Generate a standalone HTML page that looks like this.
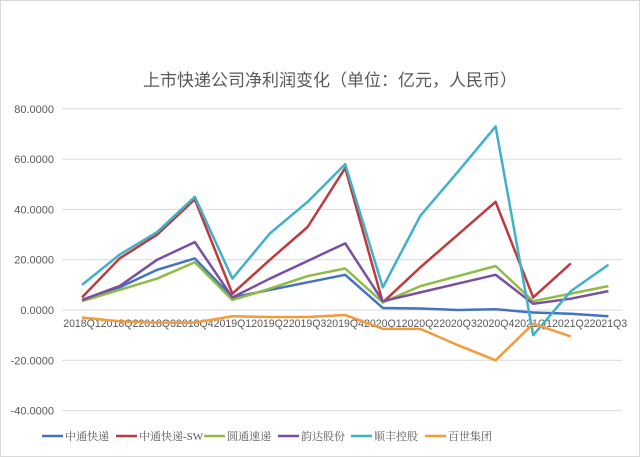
<!DOCTYPE html>
<html><head><meta charset="utf-8"><style>
body{margin:0;background:#fff;}
svg{display:block;font-family:"Liberation Sans","Noto Sans CJK SC",sans-serif;}
</style></head><body>
<svg id="c" width="640" height="457" viewBox="0 0 640 457">
<rect x="0.5" y="0.5" width="639" height="456" fill="#fff" stroke="#d9d9d9"/>
<text x="330" y="86" text-anchor="middle" font-size="17" fill="#595959" font-family="'Liberation Sans','Noto Sans CJK SC',sans-serif">上市快递公司净利润变化（单位：亿元，人民币）</text>
<g id="grid"></g><g id="xl"></g><g id="series"></g><g id="legend"></g>
</svg>
<script>
const categories=["2018Q1","2018Q2","2018Q3","2018Q4","2019Q1","2019Q2","2019Q3","2019Q4","2020Q1","2020Q2","2020Q3","2020Q4","2021Q1","2021Q2","2021Q3"];
const yTicks=[80,60,40,20,0,-20,-40];
const seriesNames=["中通快递","中通快递-SW","圆通速递","韵达股份","顺丰控股","百世集团"];
const seriesColors=["#4472c4","#c0393b","#8fbc45","#7a4fa3","#3fb1c9","#f39a3c"];
const ztoValues=[4,9,16,20.5,5,8,11,14,0.8,0.6,0,0.3,-1,-1.5,-2.5];
const ztoSwValues=[5,20.5,30,44,6.5,20,33,56.5,3,17,30,43,5,18.5,null];
const ytoValues=[3.5,8,12.5,19,4,8.5,13.5,16.5,3,9.5,13.5,17.5,3.5,6.5,9.5];
const ydValues=[4,9.5,20,27,5,12.5,19.5,26.5,3.5,7,10.5,14,2.5,4.5,7.5];
const sfValues=[10,22,31,45,12.5,30.5,43,58,9,37.5,55,73,-10,7.5,18];
const bestValues=[-3,-4.5,-5,-5,-2.5,-2.8,-2.8,-2,-7.5,-7.5,-14,-20,-5.5,-10.5,null];
const allSeries=[ztoValues,ztoSwValues,ytoValues,ydValues,sfValues,bestValues];
const NS="http://www.w3.org/2000/svg";
const xS=i=>82+i*37.6;
const yS=v=>310-v*50.3/20;
function mk(t,a,p){const e=document.createElementNS(NS,t);for(const k in a)e.setAttribute(k,a[k]);p.appendChild(e);return e;}
const g=document.getElementById('grid');
yTicks.forEach(v=>{
 const l=mk('line',{x1:62,x2:622,y1:yS(v),y2:yS(v),stroke:'#d9d9d9','stroke-width':1},g);
 
 
 const t=mk('text',{x:54,y:yS(v)+4,'text-anchor':'end','font-size':11,fill:'#595959'},g);
 t.textContent=v.toFixed(4);
 
 
});
const xl=document.getElementById('xl');
categories.forEach((c,i)=>{
 const t=mk('text',{x:xS(i),y:327,'text-anchor':'middle','font-size':11,fill:'#595959',textLength:37.6,lengthAdjust:'spacingAndGlyphs'},xl);
 t.textContent=c;
 
 
});
const sg=document.getElementById('series');
allSeries.forEach((vals,s)=>{
 let d='';vals.forEach((v,i)=>{if(v===null)return;d+=(d?'L':'M')+xS(i)+','+yS(v);});
 const p=mk('path',{d:d,fill:'none',stroke:seriesColors[s],'stroke-width':2.5,'stroke-linejoin':'round'},sg);
 
 
});
const lg=document.getElementById('legend');
const lx=[42,116,204,278,351,425];
seriesNames.forEach((n,s)=>{
 const l=mk('line',{x1:lx[s],x2:lx[s]+21,y1:436,y2:436,stroke:seriesColors[s],'stroke-width':2.5},lg);
 
 
 const t=mk('text',{x:lx[s]+23,y:440,'font-size':11,fill:'#595959','font-family':"'Liberation Serif','Noto Serif CJK SC',serif"},lg);
 t.textContent=n;
 
 
});
</script>
</body></html>
